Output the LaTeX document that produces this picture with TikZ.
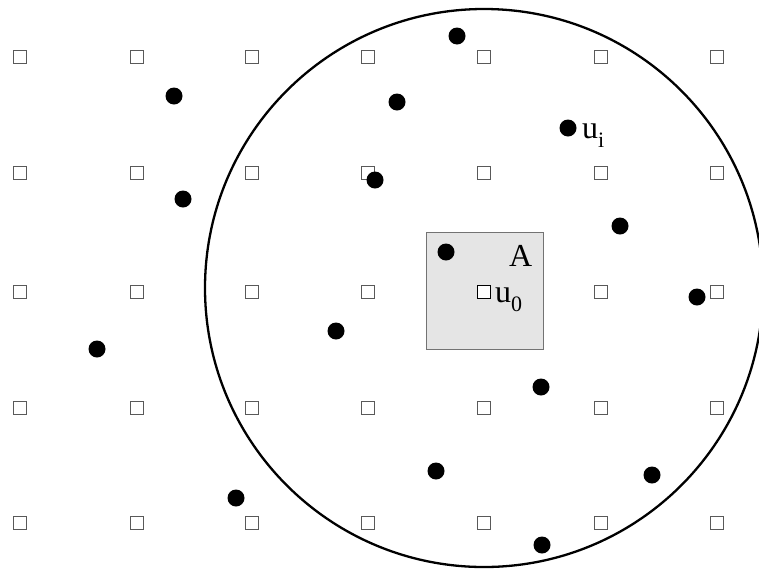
\documentclass[tikz,border=0pt]{standalone}
\usepackage{fontspec}
\setmainfont{Liberation Serif}
\tikzset{
  gridsq/.style={draw=black!65, line width=1.4pt, fill=white, minimum size=12.5pt, inner sep=0pt, outer sep=0pt},
  pt/.style={circle, fill=black, minimum size=17pt, inner sep=0pt},
  lbl/.style={font=\fontsize{32}{34}\selectfont, inner sep=0pt, anchor=base west},
}
\newcommand\lowsub[1]{\raisebox{-0.3em}{\fontsize{22}{24}\selectfont #1}}
\begin{document}
\begin{tikzpicture}[x=1pt,y=-1pt]
\useasboundingbox (0,0) rectangle (759,571);
\clip (0,0) rectangle (759,571);
% region A
\node[draw=black!55, line width=1.3pt, fill=black!10, minimum size=117pt, inner sep=0pt] (A) at (485,291) {};
% big circle
\node[draw=black, line width=2.3pt, circle, minimum size=558pt, inner sep=0pt] (C) at (484,288) {};
% grid
\foreach \x [count=\i] in {20,137,252,368,484,601,717}{
  \foreach \y [count=\j] in {57,173,292,408,523}{
    \node[gridsq] (g-\i-\j) at (\x,\y) {};
  }
}
\node[gridsq, draw=black] (u0sq) at (484,292) {};
% points
\foreach \x/\y [count=\k] in {457/36,174/96,397/102,568/128,183/199,375/180,620/226,446/252,697/297,336/331,97/349,541/387,436/471,652/475,236/498,542/545}{
  \node[pt] (p\k) at (\x,\y) {};
}
% labels
\node[lbl] (Alab) at (509,266) {A};
\node[lbl] (u0lab) at (495,302) {u\lowsub{0}};
\node[lbl] (uilab) at (582,138) {u\lowsub{i}};
\end{tikzpicture}
\end{document}
